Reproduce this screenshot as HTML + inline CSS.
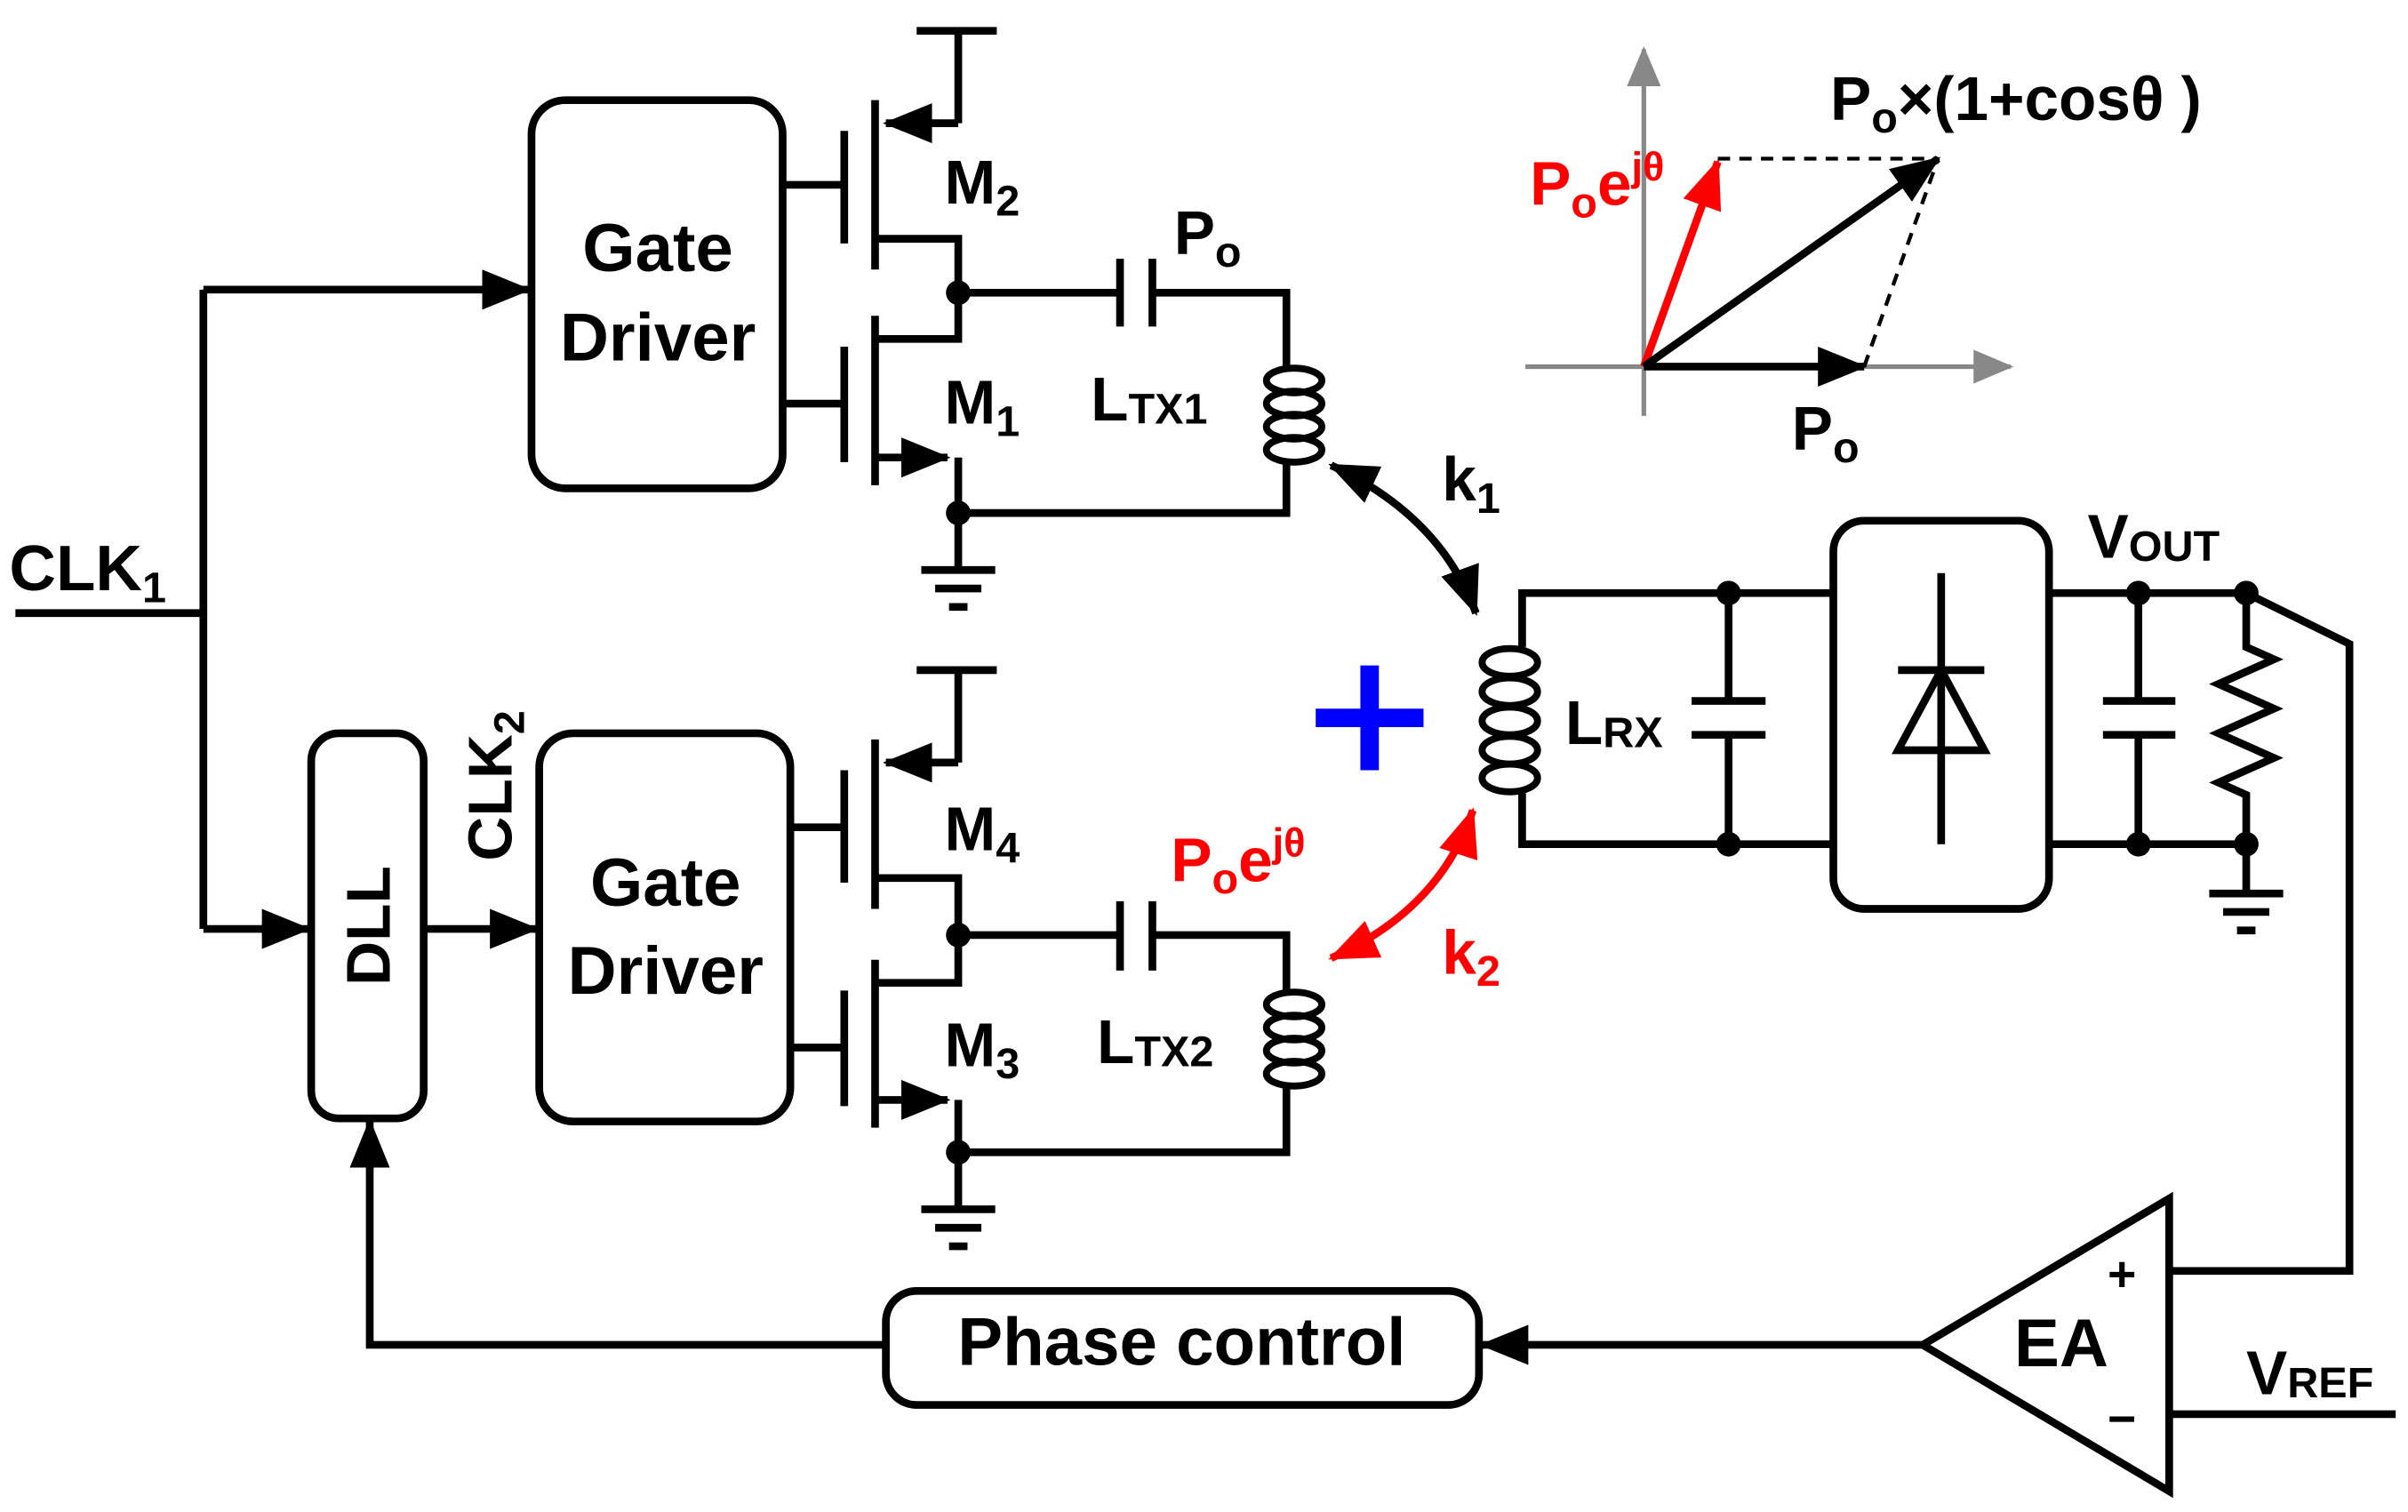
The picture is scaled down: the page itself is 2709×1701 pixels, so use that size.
<!DOCTYPE html>
<html><head><meta charset="utf-8"><style>
html,body{margin:0;padding:0;background:#fff}
svg{display:block}
text{font-family:"Liberation Sans",Arial,sans-serif;font-weight:bold}
</style></head><body>
<svg width="2709" height="1701" viewBox="0 0 1563 981.5" preserveAspectRatio="none" xmlns="http://www.w3.org/2000/svg">
<defs>
<marker id="A" markerWidth="32" markerHeight="26" refX="30" refY="13" orient="auto-start-reverse" markerUnits="userSpaceOnUse"><path d="M0,0 L32,13 L0,26 Z" fill="#000"/></marker>
<marker id="AR" markerWidth="32" markerHeight="26" refX="30" refY="13" orient="auto-start-reverse" markerUnits="userSpaceOnUse"><path d="M0,0 L32,13 L0,26 Z" fill="#f00"/></marker>
<marker id="AG" markerWidth="26" markerHeight="22" refX="24" refY="11" orient="auto" markerUnits="userSpaceOnUse"><path d="M0,0 L26,11 L0,22 Z" fill="#888"/></marker>
</defs>
<g fill="none" stroke="#000" stroke-width="5" stroke-linejoin="miter">
<rect x="345" y="65" width="163" height="252" rx="22"/>
<rect x="350" y="476" width="163" height="252" rx="22"/>
<rect x="202" y="476" width="73" height="250" rx="18"/>
<rect x="575" y="838" width="385" height="74" rx="20"/>
<rect x="1190" y="338" width="140" height="252" rx="20"/>
<path d="M10,398 H132 M132,188 V603"/>
<path d="M132,188 H343" marker-end="url(#A)"/>
<path d="M132,603 H200" marker-end="url(#A)"/>
<path d="M275,603 H348" marker-end="url(#A)"/>
<!-- upper TX -->
<path d="M508,120 H548 M508,262 H548 M548,85 V158 M548,225 V300 M568,65 V175 M568,205 V315"/>
<path d="M622,80 H575" marker-end="url(#A)"/>
<path d="M622,80 V20 M595,20 H647 M568,155 H622 V220 H568"/>
<path d="M568,297 H615" marker-end="url(#A)"/>
<path d="M622,297 V333"/>
<path d="M622,190 H727 M727,168 V212 M748,168 V212 M748,190 H835 V240 M835,298 V333 H622 M622,333 V370 M598,370 H646 M607,382 H637 M616,394 H628"/>
<!-- lower TX -->
<path d="M513,537 H548 M513,680 H548 M548,500 V573 M548,643 V718 M568,480 V590 M568,623 V732"/>
<path d="M622,495 H575" marker-end="url(#A)"/>
<path d="M622,495 V435 M595,435 H647 M568,570 H622 V638 H568"/>
<path d="M568,714 H615" marker-end="url(#A)"/>
<path d="M622,714 V748"/>
<path d="M622,607 H727 M727,585 V630 M748,585 V630 M748,607 H835 V645 M835,703 V748 H622 M622,748 V785 M598,785 H646 M607,797 H637 M616,809 H628"/>
<g stroke-width="4.5">
<ellipse cx="840" cy="247" rx="18" ry="8"/><ellipse cx="840" cy="262" rx="18" ry="8"/><ellipse cx="840" cy="277" rx="18" ry="8"/><ellipse cx="840" cy="292" rx="18" ry="8"/>
<ellipse cx="840" cy="652" rx="18" ry="8"/><ellipse cx="840" cy="667" rx="18" ry="8"/><ellipse cx="840" cy="682" rx="18" ry="8"/><ellipse cx="840" cy="697" rx="18" ry="8"/>
<ellipse cx="980" cy="430" rx="18" ry="9"/><ellipse cx="980" cy="449" rx="18" ry="9"/><ellipse cx="980" cy="468" rx="18" ry="9"/><ellipse cx="980" cy="487" rx="18" ry="9"/><ellipse cx="980" cy="505" rx="18" ry="9"/>
</g>
<path d="M988,420 V385 H1190 M988,515 V548 H1190 M1122,385 V455 M1098,455 H1146 M1098,477 H1146 M1122,477 V548"/>
<path d="M1260,372 V548 M1232,435 H1288 M1232,487 H1288 L1260,435 Z"/>
<path d="M1330,385 H1458 M1330,548 H1458 M1388,385 V455 M1365,455 H1412 M1365,477 H1412 M1388,477 V548"/>
<path d="M1458,385 V420 L1476,428 L1440,444 L1476,460 L1440,476 L1476,492 L1440,508 L1458,516 V548 V580 M1434,580 H1482 M1443,592 H1473 M1452,604 H1464"/>
<path d="M1458,385 L1525,418 V825 H1408"/>
<path d="M1408,778 V968 L1248,873 Z"/>
<path d="M1408,918 H1555"/>
<path d="M1248,873 H962" marker-end="url(#A)"/>
<path d="M575,873 H240 V728" marker-end="url(#A)"/>
<path d="M864,302 Q935,335 958,398" marker-start="url(#A)" marker-end="url(#A)"/>
<path d="M864,622 Q935,590 956,526" stroke="#f00" marker-start="url(#AR)" marker-end="url(#AR)"/>
</g>
<g fill="#000">
<circle cx="622" cy="190" r="8"/><circle cx="622" cy="333" r="8"/><circle cx="622" cy="607" r="8"/><circle cx="622" cy="748" r="8"/>
<circle cx="1122" cy="385" r="8"/><circle cx="1122" cy="548" r="8"/><circle cx="1388" cy="385" r="8"/><circle cx="1458" cy="385" r="8"/><circle cx="1388" cy="548" r="8"/><circle cx="1458" cy="548" r="8"/>
</g>
<path d="M889,432 V500 M854,466 H924" stroke="#00f" stroke-width="12"/>
<g stroke="#888" stroke-width="3" fill="none">
<path d="M1067,270 V32" marker-end="url(#AG)"/>
<path d="M990,238 H1305" marker-end="url(#AG)"/>
</g>
<g stroke-width="5" fill="none">
<path d="M1067,238 H1210" stroke="#000" marker-end="url(#A)"/>
<path d="M1067,238 L1115,105" stroke="#f00" marker-end="url(#AR)"/>
<path d="M1067,238 L1258,103" stroke="#000" marker-end="url(#A)"/>
<path d="M1115,103 H1258 M1210,238 L1258,103" stroke="#000" stroke-width="2.5" stroke-dasharray="8,6"/>
</g>
<g font-size="44" fill="#000">
<text x="427" y="176" text-anchor="middle">Gate</text>
<text x="427" y="234" text-anchor="middle">Driver</text>
<text x="432" y="588" text-anchor="middle">Gate</text>
<text x="432" y="645" text-anchor="middle">Driver</text>
<text transform="translate(253,601) rotate(-90)" text-anchor="middle" font-size="40">DLL</text>
<text transform="translate(332,510) rotate(-90)" text-anchor="middle" font-size="40">CLK<tspan font-size="28" dy="8">2</tspan></text>
<text x="767" y="886" text-anchor="middle">Phase control</text>
<text x="6" y="383" font-size="42">CLK<tspan font-size="28" dy="8">1</tspan></text>
<text x="613" y="132" font-size="40">M<tspan font-size="28" dy="8">2</tspan></text>
<text x="613" y="275" font-size="40">M<tspan font-size="28" dy="8">1</tspan></text>
<text x="613" y="552" font-size="40">M<tspan font-size="28" dy="8">4</tspan></text>
<text x="613" y="692" font-size="40">M<tspan font-size="28" dy="8">3</tspan></text>
<text x="762" y="165" font-size="40">P<tspan font-size="28" dy="8">o</tspan></text>
<text x="708" y="273" font-size="40">L<tspan font-size="28" dy="2">TX1</tspan></text>
<text x="712" y="690" font-size="40">L<tspan font-size="28" dy="2">TX2</tspan></text>
<text x="936" y="325" font-size="40">k<tspan font-size="28" dy="8">1</tspan></text>
<text x="936" y="632" fill="#f00" font-size="40">k<tspan font-size="28" dy="8">2</tspan></text>
<text x="760" y="572" fill="#f00" font-size="40">P<tspan font-size="28" dy="8">o</tspan><tspan dy="-8">e</tspan><tspan font-size="26" dy="-16">jθ</tspan></text>
<text x="1016" y="483" font-size="40">L<tspan font-size="28" dy="2">RX</tspan></text>
<text x="1355" y="362" font-size="40">V<tspan font-size="28" dy="2">OUT</tspan></text>
<text x="1458" y="905" font-size="40">V<tspan font-size="28" dy="2">REF</tspan></text>
<text x="1338" y="887" text-anchor="middle">EA</text>
<text x="1368" y="838" font-size="32">+</text>
<text x="1368" y="932" font-size="32">−</text>
<text x="1188" y="78" font-size="40">P<tspan font-size="28" dy="8">o</tspan><tspan dy="-8">×(1+cosθ )</tspan></text>
<text x="993" y="133" fill="#f00" font-size="40">P<tspan font-size="28" dy="8">o</tspan><tspan dy="-8">e</tspan><tspan font-size="26" dy="-16">jθ</tspan></text>
<text x="1163" y="292" font-size="40">P<tspan font-size="28" dy="8">o</tspan></text>
</g>
</svg>
</body></html>
